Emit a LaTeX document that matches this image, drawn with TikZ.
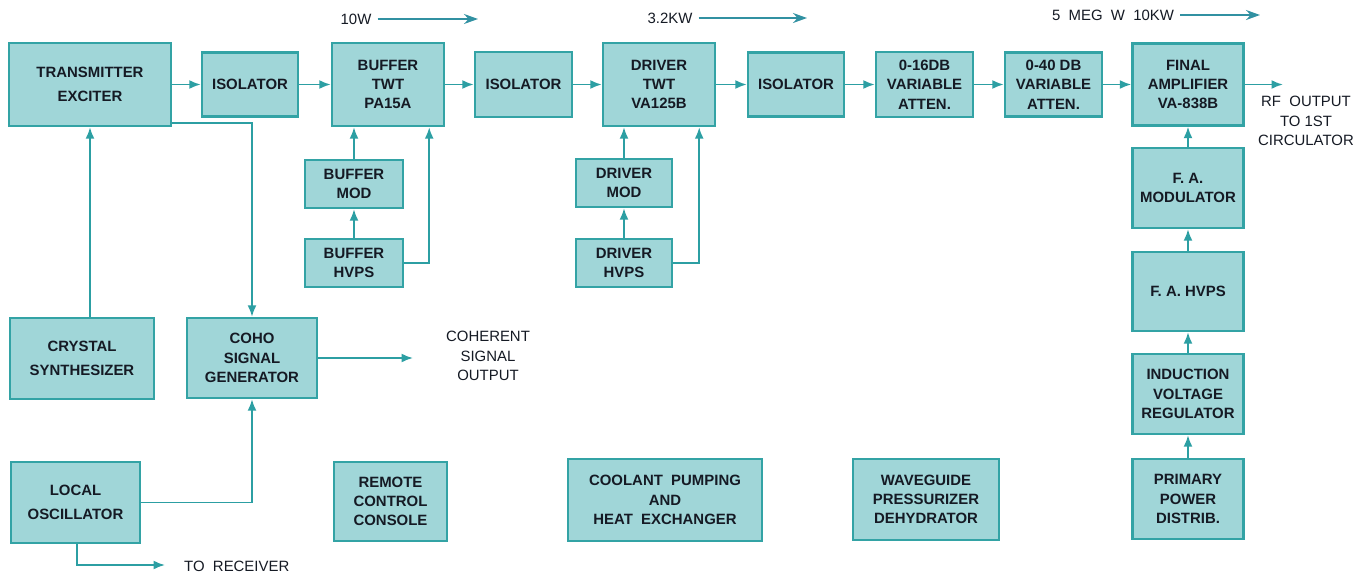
\documentclass[tikz,border=0pt]{standalone}
\usepackage{fontspec}
\setmainfont{Liberation Sans}
\usetikzlibrary{arrows.meta}
\definecolor{boxfill}{HTML}{A0D6D8}
\definecolor{boxedge}{HTML}{33A3A5}
\definecolor{wireteal}{HTML}{2C9FA3}
\definecolor{pwrteal}{HTML}{3191A2}
\definecolor{ink}{HTML}{151A24}
\tikzset{
  unit/.style={draw=boxedge,fill=boxfill,line width=1.4pt,align=center,
               inner sep=2pt,text=ink,font=\bfseries\fontsize{8.5}{11}\selectfont},
  wideunit/.style={unit,font=\bfseries\fontsize{8.5}{14}\selectfont},
  wire/.style={-{Latex[length=2.3mm,width=1.8mm]},line width=1.05pt,
               draw=wireteal},
  pwrarr/.style={-{Stealth[length=2.8mm,width=2mm]},line width=0.9pt,
                 draw=pwrteal},
  note/.style={align=center,text=ink,font=\fontsize{8.5}{11}\selectfont}
}
\begin{document}
\begin{tikzpicture}[x=0.02cm,y=-0.02cm]
    \path[use as bounding box,fill=white] (0,0) rectangle (1366,572);

    \node[wideunit,minimum width=3.24cm,minimum height=1.66cm] (exc) at (90,84.5)
      {TRANSMITTER\\EXCITER};
    \node[unit,minimum width=1.92cm,minimum height=1.28cm] (iso1) at (250,84.5)
      {ISOLATOR};
    \node[unit,minimum width=2.24cm,minimum height=1.66cm] (btwt) at (388,84.5)
      {BUFFER\\TWT\\PA15A};
    \node[unit,minimum width=1.96cm,minimum height=0.96cm] (bmod) at (354,184)
      {BUFFER\\MOD};
    \node[unit,minimum width=1.96cm,minimum height=0.96cm] (bhvps) at (354,263)
      {BUFFER\\HVPS};
    \node[unit,minimum width=1.94cm,minimum height=1.30cm] (iso2) at (523.5,84.5)
      {ISOLATOR};
    \node[unit,minimum width=2.24cm,minimum height=1.66cm] (dtwt) at (659,84.5)
      {DRIVER\\TWT\\VA125B};
    \node[unit,minimum width=1.92cm,minimum height=0.96cm] (dmod) at (624,183)
      {DRIVER\\MOD};
    \node[unit,minimum width=1.92cm,minimum height=0.96cm] (dhvps) at (624,263)
      {DRIVER\\HVPS};
    \node[unit,minimum width=1.92cm,minimum height=1.28cm] (iso3) at (796,84.5)
      {ISOLATOR};
    \node[unit,minimum width=1.94cm,minimum height=1.30cm] (att16) at (924.5,84.5)
      {0-16DB\\VARIABLE\\ATTEN.};
    \node[unit,minimum width=1.94cm,minimum height=1.28cm] (att40) at (1053.5,84.5)
      {0-40 DB\\VARIABLE\\ATTEN.};
    \node[unit,minimum width=2.22cm,minimum height=1.64cm] (famp) at (1188,84.5)
      {FINAL\\AMPLIFIER\\VA-838B};
    \node[unit,minimum width=2.22cm,minimum height=1.60cm] (famod) at (1188,188)
      {F. A.\\MODULATOR};
    \node[unit,minimum width=2.22cm,minimum height=1.58cm] (fahvps) at (1188,291.5)
      {F. A. HVPS};
    \node[unit,minimum width=2.22cm,minimum height=1.60cm] (ivr) at (1188,394)
      {INDUCTION\\VOLTAGE\\REGULATOR};
    \node[unit,minimum width=2.22cm,minimum height=1.60cm] (ppd) at (1188,499)
      {PRIMARY\\POWER\\DISTRIB.};

    \node[wideunit,minimum width=2.88cm,minimum height=1.62cm] (crys) at (82,358.5)
      {CRYSTAL\\SYNTHESIZER};
    \node[unit,minimum width=2.60cm,minimum height=1.60cm] (coho) at (252,358)
      {COHO\\SIGNAL\\GENERATOR};
    \node[wideunit,minimum width=2.58cm,minimum height=1.62cm] (lo) at (75.5,502.5)
      {LOCAL\\OSCILLATOR};
    \node[unit,minimum width=2.26cm,minimum height=1.58cm] (rcc) at (390.5,501.5)
      {REMOTE\\CONTROL\\CONSOLE};
    \node[unit,minimum width=3.88cm,minimum height=1.64cm] (cool) at (665,500)
      {COOLANT\ \ PUMPING\\AND\\HEAT\ \ EXCHANGER};
    \node[unit,minimum width=2.92cm,minimum height=1.62cm] (wave) at (926,499.5)
      {WAVEGUIDE\\PRESSURIZER\\DEHYDRATOR};

    \node[note] (p10) at (356,19) {10W};
    \node[note] (p32) at (670,18) {3.2KW};
    \node[note] (p5m) at (1113,15) {5\ \ MEG\ \ W\ \ 10KW};
    \node[note] (rfnote) at (1306,121) {RF\ \ OUTPUT\\TO 1ST\\CIRCULATOR};
    \node[note] (cohonote) at (488,356) {COHERENT\\SIGNAL\\OUTPUT};
    \node[note,anchor=west] (rcvnote) at (178,566) {TO\ \ RECEIVER};

    \coordinate (pend1) at (478,19);
    \coordinate (pend2) at (807,18);
    \coordinate (pend3) at (1260,15);
    \coordinate (rfend) at (1283,84.5);
    \coordinate (cohoend) at (413,358);
    \coordinate (rcvend) at (165,565);

    \draw[pwrarr] (p10) -- (pend1);
    \draw[pwrarr] (p32) -- (pend2);
    \draw[pwrarr] (p5m) -- (pend3);

    \draw[wire] (exc) -- (iso1);
    \draw[wire] (iso1) -- (btwt);
    \draw[wire] (btwt) -- (iso2);
    \draw[wire] (iso2) -- (dtwt);
    \draw[wire] (dtwt) -- (iso3);
    \draw[wire] (iso3) -- (att16);
    \draw[wire] (att16) -- (att40);
    \draw[wire] (att40) -- (famp);
    \draw[wire] (famp) -- (rfend);

    \draw[wire] (bmod) -- (bmod |- btwt.south);
    \draw[wire] (bhvps) -- (bmod);
    \draw[wire] (bhvps.east) -| ([xshift=-0.32cm]btwt.south east);
    \draw[wire] (dmod) -- (dmod |- dtwt.south);
    \draw[wire] (dhvps) -- (dmod);
    \draw[wire] (dhvps.east) -| ([xshift=-0.34cm]dtwt.south east);

    \draw[wire] (famod) -- (famp);
    \draw[wire] (fahvps) -- (famod);
    \draw[wire] (ivr) -- (fahvps);
    \draw[wire] (ppd) -- (ivr);

    \draw[wire] (crys.north -| exc.south) -- (exc.south);
    \draw[wire] ([yshift=0.08cm]exc.south east) -| (coho.north);
    \draw[wire] (lo.east) -| (coho.south);
    \draw[wire] (coho) -- (cohoend);
    \draw[wire] ([xshift=0.03cm]lo.south) |- (rcvend);
  \end{tikzpicture}
\end{document}
